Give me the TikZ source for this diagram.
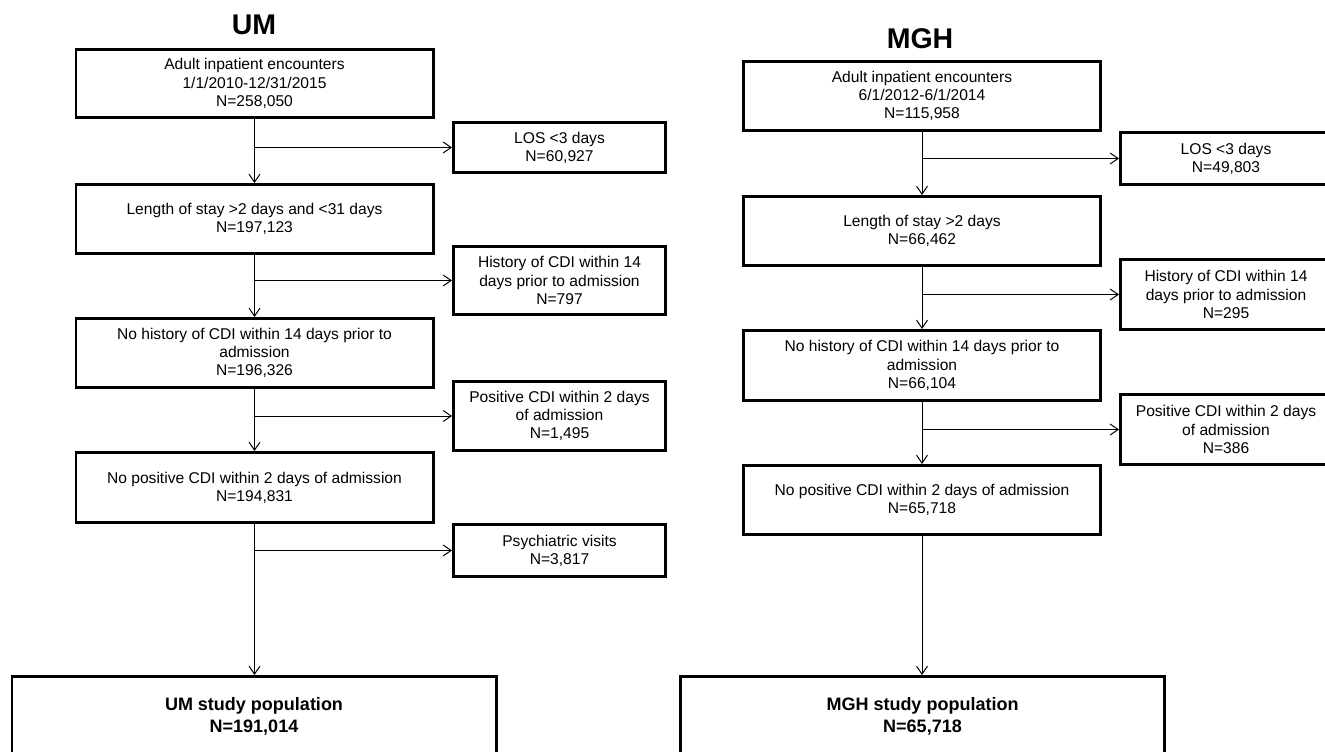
\documentclass[tikz,border=0pt]{standalone}
\usepackage{fontspec}
\setmainfont{Liberation Sans}
\usetikzlibrary{arrows.meta}
\begin{document}
\begin{tikzpicture}[x=1pt,y=-1pt,
  box/.style={draw=black, line width=2.6pt, inner sep=0pt, align=center, font=\fontsize{15.6}{18.3}\selectfont},
  mainbox/.style={box, minimum width=357.4pt},
  sidebox/.style={box, minimum width=212.4pt},
  finalbox/.style={box, minimum width=484.4pt, minimum height=79.4pt, font=\fontsize{18}{22}\selectfont\bfseries},
  ttl/.style={inner sep=0pt, font=\fontsize{28.5}{30}\selectfont\bfseries},
  arr/.style={draw=black, line width=1pt, -{Straight Barb[length=8pt,width=11pt]}}
]
\useasboundingbox (0,0) rectangle (1325,752);
\clip (0,0) rectangle (1325,752);

% ---------- UM ----------
\node[ttl] (tu) at (254,24.7) {UM};
\node[mainbox, minimum height=68.4pt] (u1) at (254.5,83.5) {Adult inpatient encounters\\1/1/2010-12/31/2015\\N=258,050};
\node[sidebox, minimum height=50.4pt] (uL) at (559.5,147.5) {LOS <3 days\\N=60,927};
\node[mainbox, minimum height=69.4pt] (u2) at (254.5,219) {Length of stay >2 days and <31 days\\N=197,123};
\node[sidebox, minimum height=68.4pt] (uH) at (559.5,280.5) {History of CDI within 14\\days prior to admission\\N=797};
\node[mainbox, minimum height=69.4pt] (u3) at (254.5,353) {No history of CDI within 14 days prior to\\admission\\N=196,326};
\node[sidebox, minimum height=69.4pt] (uP) at (559.5,416) {Positive CDI within 2 days\\of admission\\N=1,495};
\node[mainbox, minimum height=70.4pt] (u4) at (254.5,487.5) {No positive CDI within 2 days of admission\\N=194,831};
\node[sidebox, minimum height=52.4pt] (uY) at (559.5,550.5) {Psychiatric visits\\N=3,817};
\node[finalbox] (uF) at (254,716) {UM study population\\N=191,014};

\draw[arr] (u1) -- (u2);
\draw[arr] (u2) -- (u3);
\draw[arr] (u3) -- (u4);
\draw[arr] (u4.south) -- (u4.south |- uF.north);
\draw[arr] (u1.south |- uL.west) -- (uL.west);
\draw[arr] (u2.south |- uH.west) -- (uH.west);
\draw[arr] (u3.south |- uP.west) -- (uP.west);
\draw[arr] (u4.south |- uY.west) -- (uY.west);

% ---------- MGH ----------
\node[ttl] (tm) at (920,38.3) {MGH};
\node[mainbox, minimum height=69.4pt] (m1) at (922,96) {Adult inpatient encounters\\6/1/2012-6/1/2014\\N=115,958};
\node[box, minimum width=211.4pt, minimum height=52.4pt] (mL) at (1226,158.5) {LOS <3 days\\N=49,803};
\node[mainbox, minimum height=69.4pt] (m2) at (922,231) {Length of stay >2 days\\N=66,462};
\node[box, minimum width=211.4pt, minimum height=70.4pt] (mH) at (1226,294.5) {History of CDI within 14\\days prior to admission\\N=295};
\node[mainbox, minimum height=70.4pt] (m3) at (922,365.5) {No history of CDI within 14 days prior to\\admission\\N=66,104};
\node[box, minimum width=211.4pt, minimum height=70.4pt] (mP) at (1226,429.5) {Positive CDI within 2 days\\of admission\\N=386};
\node[mainbox, minimum height=69.4pt] (m4) at (922,500) {No positive CDI within 2 days of admission\\N=65,718};
\node[finalbox] (mF) at (922.5,716) {MGH study population\\N=65,718};

\draw[arr] (m1) -- (m2);
\draw[arr] (m2) -- (m3);
\draw[arr] (m3) -- (m4);
\draw[arr] (m4.south) -- (m4.south |- mF.north);
\draw[arr] (m1.south |- mL.west) -- (mL.west);
\draw[arr] (m2.south |- mH.west) -- (mH.west);
\draw[arr] (m3.south |- mP.west) -- (mP.west);
\end{tikzpicture}
\end{document}
